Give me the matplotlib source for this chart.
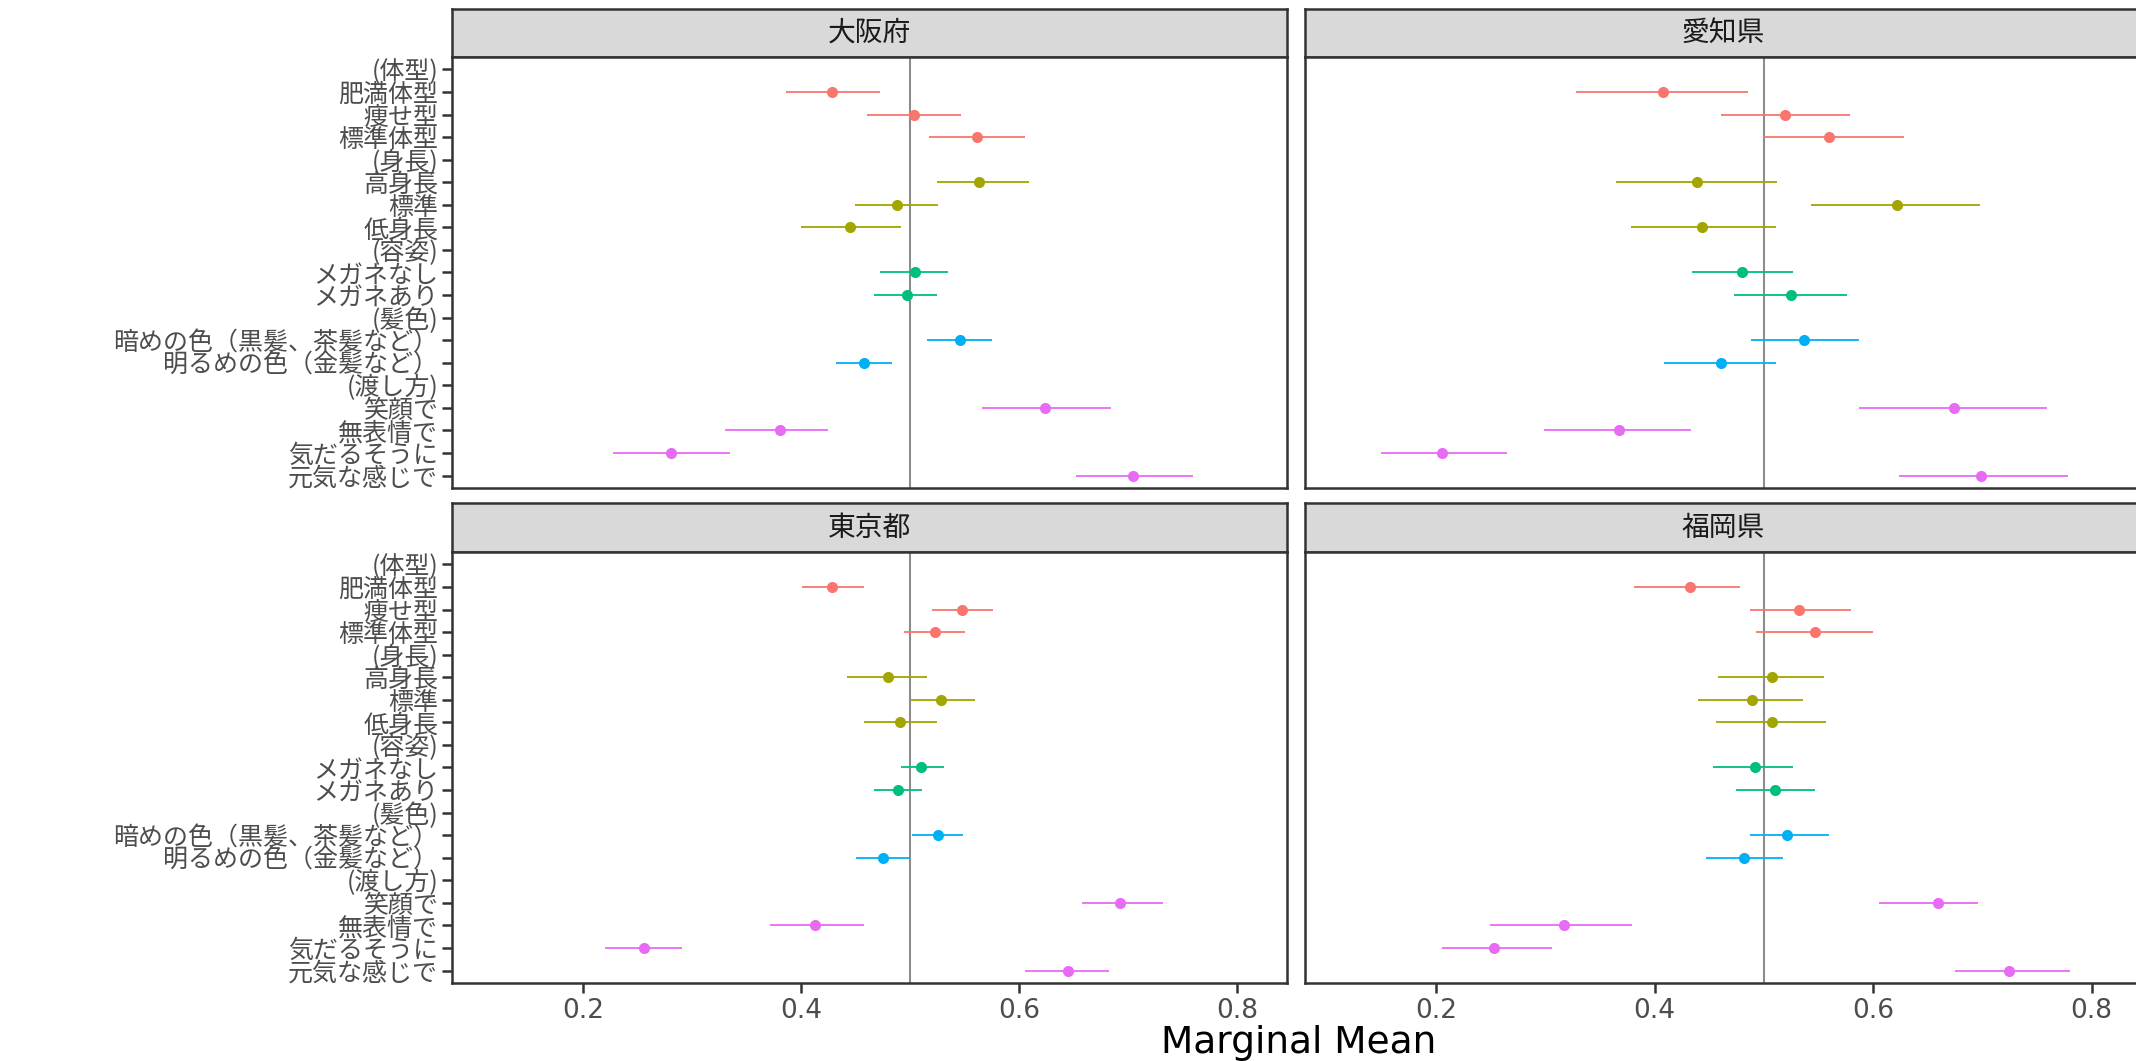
"""Marginal means by prefecture: 4 facets (ggplot theme_bw look)."""
import matplotlib
matplotlib.use("Agg")
import matplotlib.pyplot as plt

# --- data ---
features = ["体型", "身長", "容姿", "髪色", "渡し方"]
feature_levels = [
    ["肥満体型", "痩せ型", "標準体型"],
    ["高身長", "標準", "低身長"],
    ["メガネなし", "メガネあり"],
    ["暗めの色（黒髪、茶髪など）", "明るめの色（金髪など）"],
    ["笑顔で", "無表情で", "気だるそうに", "元気な感じで"],
]
feature_colors = ["#F8766D", "#A3A500", "#00BF7D", "#00B0F6", "#E76BF3"]

prefectures = ["大阪府", "愛知県", "東京都", "福岡県"]

est_osaka = [0.429, 0.504, 0.562, 0.563, 0.488, 0.445, 0.505, 0.497, 0.546, 0.458, 0.624, 0.381, 0.281, 0.705]
lo_osaka = [0.386, 0.461, 0.518, 0.525, 0.450, 0.400, 0.473, 0.467, 0.516, 0.432, 0.566, 0.330, 0.228, 0.652]
hi_osaka = [0.473, 0.547, 0.606, 0.609, 0.526, 0.492, 0.535, 0.525, 0.575, 0.484, 0.685, 0.425, 0.335, 0.760]

est_aichi = [0.408, 0.519, 0.560, 0.439, 0.622, 0.443, 0.480, 0.525, 0.537, 0.461, 0.674, 0.367, 0.205, 0.699]
lo_aichi = [0.328, 0.461, 0.499, 0.365, 0.543, 0.378, 0.434, 0.473, 0.488, 0.409, 0.587, 0.299, 0.150, 0.624]
hi_aichi = [0.485, 0.579, 0.628, 0.512, 0.698, 0.511, 0.527, 0.576, 0.587, 0.511, 0.759, 0.433, 0.265, 0.778]

est_tokyo = [0.429, 0.548, 0.523, 0.480, 0.529, 0.491, 0.510, 0.489, 0.526, 0.475, 0.693, 0.413, 0.256, 0.645]
lo_tokyo = [0.401, 0.520, 0.495, 0.442, 0.501, 0.458, 0.492, 0.467, 0.502, 0.451, 0.658, 0.372, 0.220, 0.606]
hi_tokyo = [0.458, 0.576, 0.551, 0.516, 0.560, 0.525, 0.531, 0.511, 0.549, 0.500, 0.732, 0.458, 0.291, 0.683]

est_fukuoka = [0.432, 0.532, 0.547, 0.507, 0.489, 0.507, 0.492, 0.510, 0.521, 0.482, 0.659, 0.317, 0.253, 0.724]
lo_fukuoka = [0.381, 0.487, 0.493, 0.458, 0.440, 0.456, 0.453, 0.474, 0.487, 0.447, 0.605, 0.249, 0.205, 0.675]
hi_fukuoka = [0.478, 0.580, 0.600, 0.555, 0.536, 0.557, 0.527, 0.547, 0.560, 0.517, 0.696, 0.379, 0.306, 0.780]

x_ticks = [0.2, 0.4, 0.6, 0.8]

series = {
    "大阪府": (est_osaka, lo_osaka, hi_osaka),
    "愛知県": (est_aichi, lo_aichi, hi_aichi),
    "東京都": (est_tokyo, lo_tokyo, hi_tokyo),
    "福岡県": (est_fukuoka, lo_fukuoka, hi_fukuoka),
}

# rows: header "(feature)" then its levels; remember row index + colour of data rows
rows = []
data_rows = []
data_cols = []
for f, levs, c in zip(features, feature_levels, feature_colors):
    rows.append("(%s)" % f)
    for lv in levs:
        data_rows.append(len(rows))
        data_cols.append(c)
        rows.append(lv)

W, H = 2136, 1061
fig = plt.figure(figsize=(W / 100, H / 100), dpi=100)
fig.patch.set_facecolor("white")


def box(x0, y0, x1, y1):
    return [x0 / W, 1 - y1 / H, (x1 - x0) / W, (y1 - y0) / H]


CJK = ["Noto Sans CJK JP", "DejaVu Sans"]
BORDER = "#333333"
cols_px = [(452, 1287), (1305, 2142)]
rows_px = [((9, 57), (57, 488)), ((503, 552), (552, 983))]

for k, pref in enumerate(prefectures):
    r, c = divmod(k, 2)
    x0, x1 = cols_px[c]
    (s0, s1), (p0, p1) = rows_px[r]

    # strip
    sax = fig.add_axes(box(x0, s0, x1, s1))
    sax.set_facecolor("#D9D9D9")
    sax.set_xticks([]); sax.set_yticks([])
    for sp in sax.spines.values():
        sp.set_color(BORDER); sp.set_linewidth(1.8)
    sax.text(0.5, 0.5, pref, ha="center", va="center", fontsize=20,
             family=CJK, color="#1A1A1A", transform=sax.transAxes)

    # panel
    ax = fig.add_axes(box(x0, p0, x1, p1))
    est, lo, hi = series[pref]
    ax.axvline(0.5, color="#8C8C8C", lw=1.5, zorder=1)
    for y, e, l, h, col in zip(data_rows, est, lo, hi, data_cols):
        ax.hlines(y, l, h, color=col, lw=1.3, zorder=2)
        ax.plot(e, y, "o", color=col, ms=8, mec="none", zorder=3)

    ax.set_xlim(0.08, 0.846)
    ax.set_ylim(len(rows) - 1 + 0.55, -0.55)
    ax.set_xticks(x_ticks)
    ax.set_yticks(range(len(rows)))
    for sp in ax.spines.values():
        sp.set_color(BORDER); sp.set_linewidth(1.8)

    if c == 0:
        ax.set_yticklabels(rows, family=CJK, fontsize=18, color="#4D4D4D")
        ax.tick_params(axis="y", length=7, width=1.8, color=BORDER, pad=3)
    else:
        ax.tick_params(axis="y", left=False, labelleft=False)

    if r == 1:
        ax.set_xticklabels(["%.1f" % v for v in x_ticks], family="DejaVu Sans",
                           fontsize=19, color="#4D4D4D")
        ax.tick_params(axis="x", length=7, width=1.8, color=BORDER, pad=4)
    else:
        ax.tick_params(axis="x", bottom=False, labelbottom=False)

fig.text(1299 / W, 1 - 1043 / H, "Marginal Mean", ha="center", va="center",
         fontsize=27, family="DejaVu Sans", color="black")

fig.savefig("out.png", dpi=100)
